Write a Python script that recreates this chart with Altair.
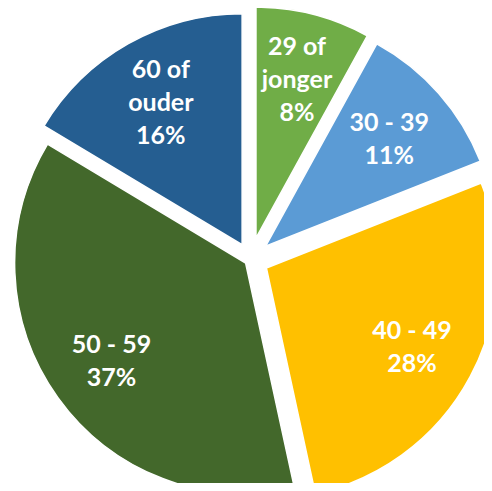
import math
import altair as alt
import pandas as pd

# data
categories = ["29 of\njonger", "30 - 39", "40 - 49", "50 - 59", "60 of\nouder"]
shares = [8.0, 11.0, 27.6, 37.0, 16.4]

# style
colors = ["#70AD47", "#5B9BD5", "#FFC000", "#43682B", "#255E91"]
explode_px = [22, 20, 18, 6, 17]   # per-slice explosion distance (Excel-style)
CX, CY = 242.5, 251.5              # pie centre in plot coordinates
R = 231
LABEL_R = 165
LINE_H = 33

total = sum(shares)
df = pd.DataFrame({
    "cat": categories,
    "share": shares,
    "order": list(range(len(categories))),
    "explode": explode_px,
})
df["label"] = [f"{c}\n{round(s):d}%" for c, s in zip(categories, shares)]
df["nlines"] = df["label"].str.count("\n") + 1

base = alt.Chart(df).transform_window(
    cum="sum(share)", sort=[alt.SortField("order")], frame=[None, 0]
).transform_calculate(
    start="datum.cum - datum.share",
    mid=f"(datum.cum - datum.share / 2) / {total} * 2 * PI",
).transform_calculate(
    cx=f"{CX} + datum.explode * sin(datum.mid)",
    cy=f"{CY} - datum.explode * cos(datum.mid)",
).transform_calculate(
    tx=f"datum.cx + {LABEL_R} * sin(datum.mid)",
    ty=f"datum.cy - {LABEL_R} * cos(datum.mid) - (datum.nlines - 1) * {LINE_H / 2} + 2",
)

pie = base.mark_arc(outerRadius=R, stroke="white", strokeWidth=1.5).encode(
    theta=alt.Theta("start:Q", stack=None,
                    scale=alt.Scale(domain=[0, total], range=[0, 2 * math.pi])),
    theta2=alt.Theta2("cum:Q"),
    x=alt.X("cx:Q", scale=None),
    y=alt.Y("cy:Q", scale=None),
    color=alt.Color("cat:N", scale=alt.Scale(domain=categories, range=colors), legend=None),
)

text = base.mark_text(
    font="Lato", fontSize=25, fontWeight="bold", color="white",
    lineBreak="\n", lineHeight=LINE_H, align="center", baseline="middle"
).encode(
    x=alt.X("tx:Q", scale=None),
    y=alt.Y("ty:Q", scale=None),
    text="label:N",
)

chart = (pie + text).properties(
    width=476, height=475, padding=0, autosize="none"
).configure_view(stroke=None)

chart.save("out.html", embed_options={"renderer": "svg", "actions": False})
